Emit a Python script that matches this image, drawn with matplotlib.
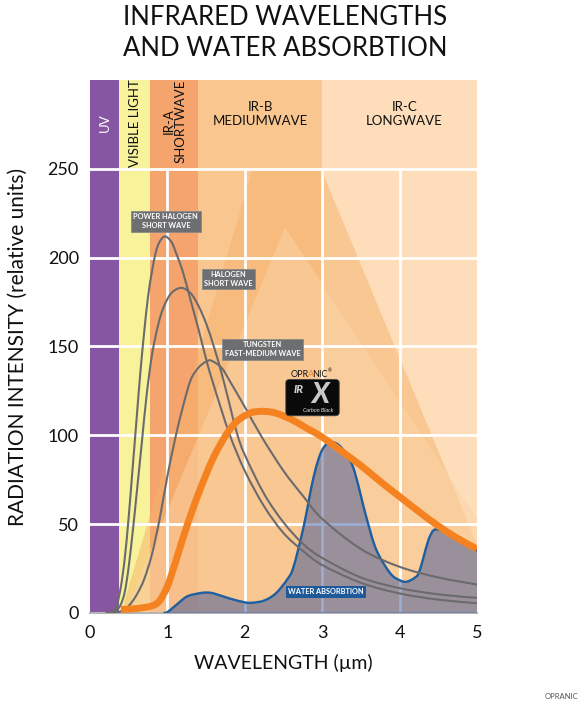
import matplotlib
matplotlib.use("Agg")
import matplotlib.pyplot as plt
import numpy as np
from matplotlib.patches import Polygon, Rectangle, FancyBboxPatch, PathPatch
from matplotlib.path import Path

plt.rcParams['font.family'] = ['Lato', 'DejaVu Sans']

# spectrum bands (start, end in um)
band_names = ["UV", "VISIBLE LIGHT", "IR-A\nSHORTWAVE", "IR-B\nMEDIUMWAVE", "IR-C\nLONGWAVE"]
band_edges = [0.0, 0.38, 0.78, 1.4, 3.0, 5.0]
band_colors = ["#8756A3", "#F8F29A", "#F4A46C", "#F9C690", "#FDDDBA"]

# emitter curves
ph_x = [0.2, 0.3, 0.35, 0.4, 0.45, 0.5, 0.55, 0.6, 0.65, 0.7, 0.75, 0.8, 0.85, 0.9, 0.97,
        1.05, 1.1, 1.2, 1.3, 1.4, 1.5, 1.6, 1.8, 2.0, 2.25, 2.5, 2.75, 3.0, 3.5, 4.0, 4.5, 5.0]
ph_y = [0, 1, 5, 15, 31, 54, 81, 108, 135, 158, 178, 192, 203, 209, 212,
        209, 204, 192, 176, 160, 143, 128, 101, 80, 60, 45, 35, 27, 17, 11, 7.5, 5.5]

hal_x = [0.25, 0.35, 0.4, 0.45, 0.5, 0.56, 0.6, 0.67, 0.73, 0.8, 0.88, 0.95, 1.05, 1.18,
         1.3, 1.4, 1.5, 1.6, 1.7, 1.8, 1.9, 2.0, 2.25, 2.5, 2.75, 3.0, 3.5, 4.0, 4.5, 5.0]
hal_y = [0, 2, 5, 12, 26, 49, 66, 96, 122, 145, 162, 172, 180, 183,
         180, 173, 163, 150, 135, 118, 101, 89, 67, 51, 39, 31, 20, 14, 10.5, 8.5]

tung_x = [0.3, 0.4, 0.5, 0.6, 0.7, 0.8, 0.9, 1.0, 1.1, 1.2, 1.3, 1.4, 1.5, 1.57,
          1.7, 1.8, 2.0, 2.22, 2.5, 2.75, 3.0, 3.5, 4.0, 4.5, 5.0]
tung_y = [0, 1, 4, 10, 19, 33, 53, 77, 98, 116, 131, 138, 141.5, 142,
          138, 131, 116, 99, 80, 66, 53, 36, 26, 20, 16]

irx_x = [0.4, 0.6, 0.8, 0.9, 1.0, 1.1, 1.2, 1.3, 1.4, 1.5, 1.6, 1.7, 1.8, 1.9, 2.0, 2.1,
         2.25, 2.4, 2.6, 2.8, 3.0, 3.25, 3.5, 3.75, 4.0, 4.25, 4.5, 4.75, 5.0]
irx_y = [2, 2.5, 4, 7, 15, 28, 42, 55, 67, 78, 88, 96, 103, 108, 111, 113,
         113.5, 112.5, 109, 104, 99, 91, 83, 74, 65.5, 57, 49, 42, 36]

water_x = [0.95, 1.0, 1.1, 1.25, 1.4, 1.5, 1.6, 1.8, 2.0, 2.1, 2.25, 2.4, 2.55, 2.63, 2.76, 2.89,
           3.0, 3.12, 3.25, 3.4, 3.57, 3.7, 3.88, 4.0, 4.09, 4.2, 4.26, 4.39, 4.5, 4.75, 5.0]
water_y = [0, 0.5, 4, 9.2, 11, 11.5, 11, 8.2, 6, 5.8, 7, 11, 19, 26, 48.6, 76.7,
           91.8, 96, 93, 82, 54, 35.5, 22.3, 18.5, 17.6, 20, 24, 43, 47, 41, 35]


def smooth(xs, ys, close=False):
    # Catmull-Rom through the read points, drawn as bezier segments
    pts = np.column_stack([xs, ys]).astype(float)
    verts = [pts[0]]
    codes = [Path.MOVETO]
    n = len(pts)
    for i in range(n - 1):
        p0 = pts[max(i - 1, 0)]
        p1 = pts[i]
        p2 = pts[i + 1]
        p3 = pts[min(i + 2, n - 1)]
        verts += [p1 + (p2 - p0) / 6, p2 - (p3 - p1) / 6, p2]
        codes += [Path.CURVE4] * 3
    if close:
        verts += [(pts[-1][0], 0), (pts[0][0], 0), pts[0]]
        codes += [Path.LINETO, Path.LINETO, Path.CLOSEPOLY]
    return Path(verts, codes)


fig = plt.figure(figsize=(5.87, 7.08), dpi=100)
ax = fig.add_axes([0.1533, 0.1342, 0.6593, 0.7528])
ax.set_xlim(0, 5)
ax.set_ylim(0, 300)

# background bands
for i in range(len(band_names)):
    ax.add_patch(Rectangle((band_edges[i], 0), band_edges[i + 1] - band_edges[i], 300,
                           facecolor=band_colors[i], edgecolor="none", zorder=0))

# decorative mountains below the label strip
clip = Rectangle((0.38, 0), 4.62, 250, transform=ax.transData, facecolor="none", edgecolor="none")
ax.add_patch(clip)
big = Polygon([(0.40, 0), (2.47, 304), (5.37, 0)], closed=True,
              facecolor="#F6B26C", edgecolor="none", alpha=0.5, zorder=1)
small = Polygon([(0.45, 0), (2.52, 217), (5.8, 0)], closed=True,
                facecolor="#FBD4A8", edgecolor="none", alpha=0.5, zorder=1)
for p in (big, small):
    ax.add_patch(p)
    p.set_clip_path(clip)

# grid
for gx in [1, 2, 3, 4]:
    ax.plot([gx, gx], [0, 250], color="white", lw=2, zorder=2)
for gy in [50, 100, 150, 200, 250]:
    ax.axhline(gy, color="white", lw=2, zorder=2)

# water absorption
ax.add_patch(PathPatch(smooth(water_x, water_y, close=True), facecolor="#24479A",
                       alpha=0.45, lw=0, zorder=3))
ax.add_patch(PathPatch(smooth(water_x, water_y), facecolor="none", edgecolor="#1D5FA0",
                       lw=1.7, zorder=4))

# emitters
for xs, ys in [(ph_x, ph_y), (hal_x, hal_y), (tung_x, tung_y)]:
    ax.add_patch(PathPatch(smooth(xs, ys), facecolor="none", edgecolor="#6B6B6D",
                           lw=1.5, zorder=5))
ax.add_patch(PathPatch(smooth(irx_x, irx_y), facecolor="none", edgecolor="#F58220",
                       lw=5, zorder=6, capstyle="butt"))

# band labels
ax.text(0.19, 276, "UV", rotation=90, color="white", ha="center", va="center", fontsize=9.5)
ax.text(0.58, 276, "VISIBLE LIGHT", rotation=90, color="#111111", ha="center", va="center", fontsize=9.5)
ax.text(1.09, 277, "IR-A\nSHORTWAVE", rotation=90, color="#111111", ha="center", va="center",
        fontsize=9.5, linespacing=1.0)
ax.text(2.2, 281, "IR-B\nMEDIUMWAVE", color="#111111", ha="center", va="center", fontsize=9.5,
        linespacing=1.15)
ax.text(4.06, 281, "IR-C\nLONGWAVE", color="#111111", ha="center", va="center", fontsize=9.5,
        linespacing=1.15)

# curve tags
box = dict(boxstyle="square,pad=0.35", facecolor="#6D6E70", edgecolor="#8A8A8A", lw=0.6)
for tx, ty, lab in [(0.98, 220.6, "POWER HALOGEN\nSHORT WAVE"),
                    (1.79, 188, "HALOGEN\nSHORT WAVE"),
                    (2.23, 148.4, "TUNGSTEN\nFAST-MEDIUM WAVE")]:
    ax.text(tx, ty, lab, color="white", ha="center", va="center", fontsize=5.3,
            fontweight="bold", linespacing=1.3, bbox=box, zorder=7)
ax.text(3.05, 12, "WATER ABSORBTION", color="white", ha="center", va="center", fontsize=5.3,
        fontweight="bold", zorder=7,
        bbox=dict(boxstyle="square,pad=0.35", facecolor="#1E5A9A", edgecolor="none"))

# product badge
ax.add_patch(FancyBboxPatch((2.53, 111), 0.69, 20.5, boxstyle="round,pad=0,rounding_size=0.06",
                            mutation_aspect=30, facecolor="#0A0A0A", edgecolor="#444444",
                            lw=0.6, zorder=7))
ax.text(2.70, 126, "IR", color="#D0D0D0", ha="center", va="center", fontsize=8,
        fontweight="black", style="italic", zorder=8)
ax.text(2.97, 122.5, "X", color="#C8C8C8", ha="center", va="center", fontsize=20,
        fontweight="black", style="italic", zorder=8)
ax.text(2.95, 114, "Carbon Black", color="#E0E0E0", ha="center", va="center", fontsize=4,
        style="italic", zorder=9)
t1 = ax.text(2.59, 134.5, "OPR", color="#111111", ha="left", va="center", fontsize=6.5, zorder=8)
t2 = ax.annotate("A", xy=(1, 0.5), xycoords=t1, xytext=(-0.8, 0), textcoords="offset points",
                 ha="left", va="center", fontsize=6.5, color="#F58220", zorder=8)
t3 = ax.annotate("NIC", xy=(1, 0.5), xycoords=t2, xytext=(-0.8, 0), textcoords="offset points",
                 ha="left", va="center", fontsize=6.5, color="#111111", zorder=8)
ax.annotate("\u00ae", xy=(1, 0.9), xycoords=t3, ha="left", va="center", fontsize=3.5,
            color="#111111", zorder=8)

# axes styling
for s in ["top", "right", "left"]:
    ax.spines[s].set_visible(False)
ax.spines["bottom"].set_color("#B5B5B5")
ax.spines["bottom"].set_linewidth(1.5)
ax.set_xticks([0, 1, 2, 3, 4, 5])
ax.set_yticks([0, 50, 100, 150, 200, 250])
ax.tick_params(length=0, labelsize=13, colors="#111111")
ax.tick_params(axis="x", pad=9)
ax.tick_params(axis="y", pad=8)
ax.set_xlabel("WAVELENGTH (\u00b5m)", fontsize=14, color="#111111", labelpad=9)
ax.set_ylabel("RADIATION INTENSITY (relative units)", fontsize=15, color="#111111", labelpad=14)

fig.text(0.4855, 0.993, "INFRARED WAVELENGTHS\nAND WATER ABSORBTION", ha="center", va="top",
         fontsize=18.5, color="#111111", linespacing=1.3)
fig.text(0.985, 0.012, "OPRANIC", ha="right", va="bottom", fontsize=5.5, color="#555555")

fig.savefig("out.png", dpi=100)
